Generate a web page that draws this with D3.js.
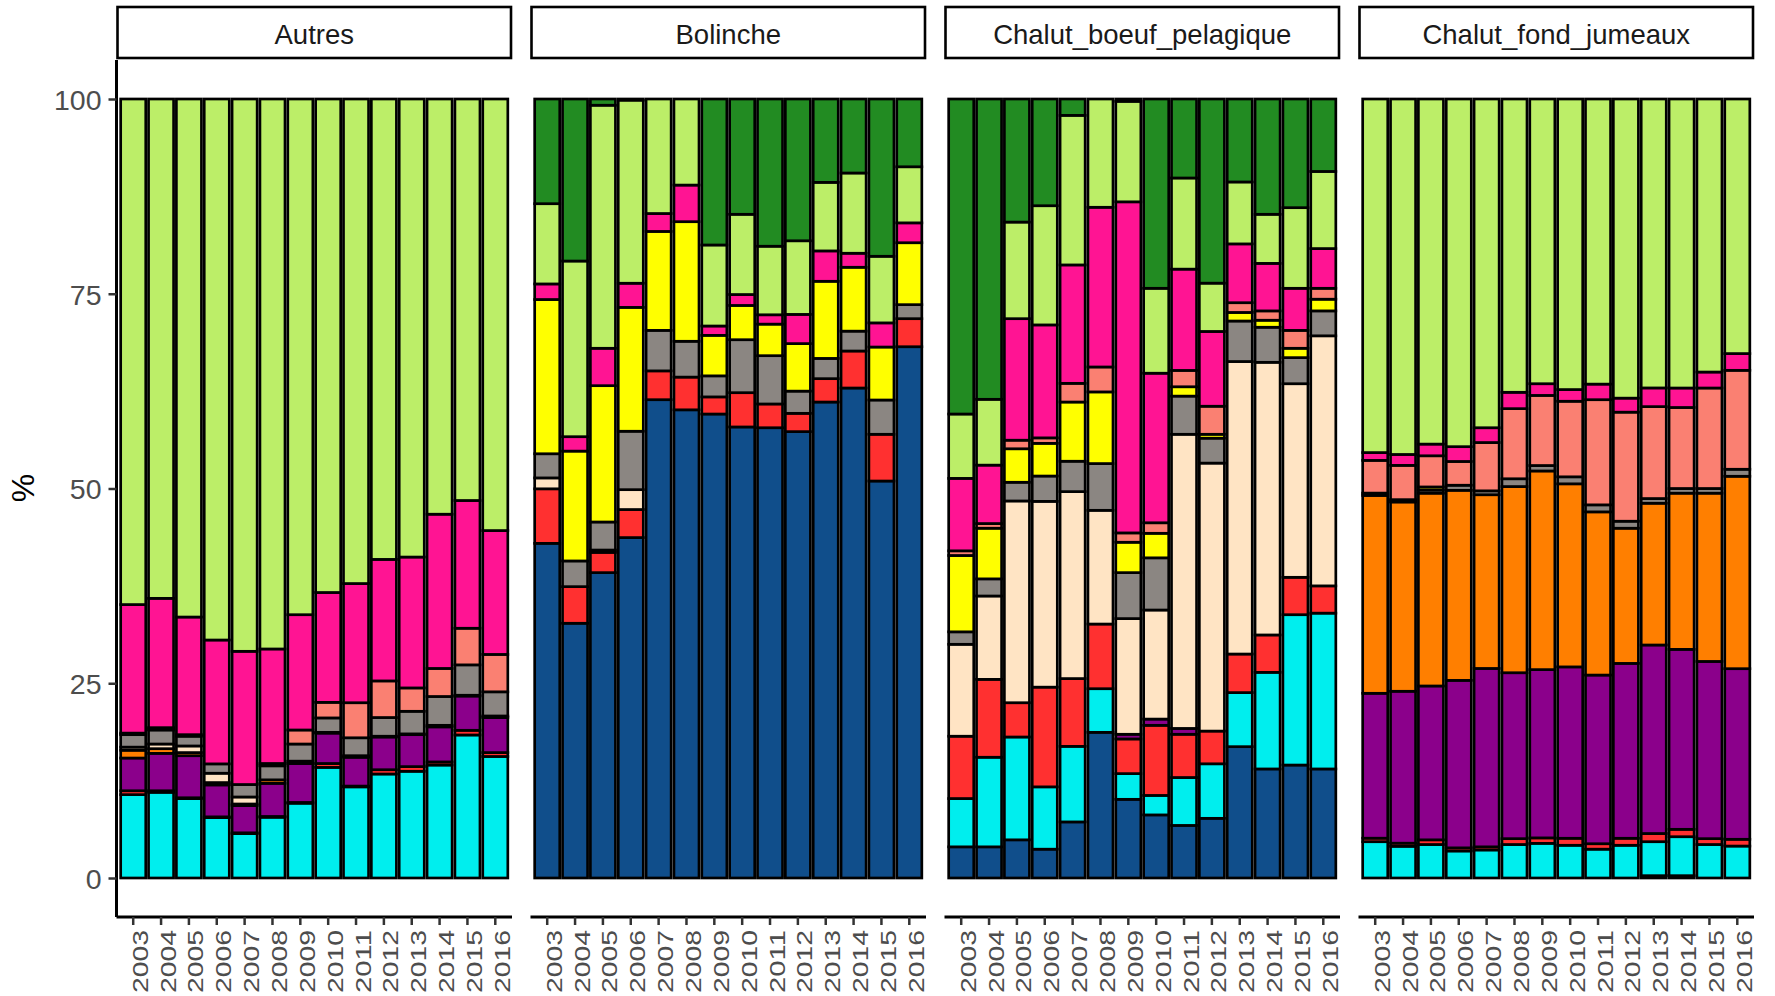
<!DOCTYPE html>
<html>
<head>
<meta charset="utf-8">
<script src="https://cdn.jsdelivr.net/npm/d3@7"></script>
<style>
  html, body { margin: 0; padding: 0; background: #ffffff; }
  svg { display: block; font-family: "Liberation Sans", Arial, sans-serif; }
</style>
</head>
<body>
<svg id="chart" width="1775" height="996"></svg>
<script>
// Years on the x axis of every panel
const years = ["2003","2004","2005","2006","2007","2008","2009","2010","2011","2012","2013","2014","2015","2016"];

// Fishing gear, one panel each
const gears = ["Autres", "Bolinche", "Chalut_boeuf_pelagique", "Chalut_fond_jumeaux"];

// Stacked groups, bottom to top, and their fills
const groups = ["g01","g02","g03","g04","g05","g06","g07","g08","g09","g10","g11","g12"];
const groupColors = ["#104E8B","#00EEEE","#FF3030","#8B008B","#FF7F00","#FFE4C4",
                     "#8B8682","#FFFF00","#FA8072","#FF1493","#BCEE68","#228B22"];

const yTicks = [0, 25, 50, 75, 100];

// Share (%) per group (rows, same order as groups) and year (columns)
const autres = [
  [0,0,0,0,0,0,0,0,0,0,0,0,0,0],
  [10.7,11.0,10.2,7.75,5.7,7.8,9.6,14.2,11.7,13.35,13.7,14.5,18.36,15.6],
  [0.5,0.2,0.1,0.1,0.1,0.1,0.1,0.5,0.1,0.55,0.6,0.4,0.6,0.5],
  [4.2,4.8,5.4,4.1,3.5,4.25,5.0,3.9,3.7,4.2,4.1,4.5,4.4,4.5],
  [1.0,0.6,0.4,0.3,0.2,0.45,0.3,0.1,0.2,0.1,0.1,0.2,0.1,0.2],
  [0.4,0.6,0.85,1.2,0.9,0,0,0,0,0,0,0,0,0],
  [1.6,1.8,1.25,1.2,1.6,1.8,2.2,1.85,2.3,2.4,2.9,3.7,3.9,3.1],
  [0,0,0,0,0,0,0,0,0,0,0,0,0,0],
  [0.2,0.3,0.2,0,0,0.3,1.8,2.0,4.5,4.7,3.0,3.6,4.7,4.8],
  [16.5,16.6,15.1,15.9,17.1,14.7,14.8,14.1,15.3,15.6,16.8,19.8,16.4,15.9],
  [64.9,64.1,66.5,69.45,70.9,70.6,66.2,63.35,62.2,59.1,58.8,53.3,51.54,55.4],
  [0,0,0,0,0,0,0,0,0,0,0,0,0,0]
];

const bolinche = [
  [42.96,32.7,39.2,43.7,61.4,60.1,59.56,57.9,57.8,57.3,61.1,62.9,50.96,68.2],
  [0,0,0,0,0,0,0,0,0,0,0,0,0,0],
  [7.0,4.7,2.6,3.6,3.7,4.2,2.2,4.4,3.05,2.35,3.0,4.75,6.0,3.6],
  [0,0,0,0,0,0,0,0,0,0,0,0,0,0],
  [0,0,0,0,0,0,0,0,0,0,0,0,0,0],
  [1.4,0,0.3,2.55,0,0,0,0,0,0,0,0,0,0],
  [3.1,3.3,3.6,7.5,5.2,4.6,2.7,6.8,6.2,2.85,2.6,2.55,4.4,1.8],
  [19.8,14.1,17.5,15.9,12.7,15.35,5.2,4.4,4.05,6.1,9.9,8.2,6.8,7.95],
  [0,0,0,0,0,0,0,0,0,0,0,0,0,0],
  [2.0,1.85,4.8,3.1,2.3,4.7,1.2,1.4,1.2,3.75,3.9,1.8,3.1,2.55],
  [10.3,22.55,31.2,23.5,14.7,11.05,10.4,10.3,8.8,9.45,8.8,10.3,8.55,7.2],
  [13.44,20.8,0.8,0.15,0,0,18.74,14.8,18.9,18.2,10.7,9.5,20.19,8.7]
];

const chalutBoeufPelagique = [
  [4.0,4.0,4.9,3.7,7.2,18.7,10.1,8.1,6.75,7.66,16.86,14.0,14.5,14.0],
  [6.2,11.5,13.2,8.0,9.7,5.6,3.3,2.5,6.15,7.0,6.94,12.4,19.3,20.0],
  [8.0,10.0,4.4,12.8,8.7,8.3,4.45,9.0,5.55,4.2,4.95,4.8,4.8,3.5],
  [0,0,0,0,0,0,0.6,0.8,0.75,0,0,0,0,0],
  [0,0,0,0,0,0,0,0,0,0,0,0,0,0],
  [11.8,10.7,25.9,23.85,24.0,14.6,14.85,14.0,37.76,34.4,37.55,35.0,24.85,32.1],
  [1.6,2.2,2.4,3.25,3.9,6.0,5.9,6.7,4.9,3.2,5.2,4.5,3.35,3.2],
  [9.8,6.5,4.3,4.2,7.6,9.2,3.9,3.15,1.2,0.5,1.1,0.9,1.2,1.5],
  [0.6,0.6,1.1,0.7,2.4,3.2,1.2,1.35,2.1,3.6,1.25,1.2,2.3,1.4],
  [9.3,7.5,15.6,14.5,15.2,20.5,42.5,19.2,13.0,9.6,7.55,6.1,5.4,5.1],
  [8.26,8.45,12.4,15.3,19.2,13.9,12.9,10.9,11.7,6.2,7.95,6.3,10.35,9.9],
  [40.44,38.55,15.8,13.7,2.1,0,0.3,24.3,10.14,23.64,10.65,14.8,13.95,9.3]
];

const chalutFondJumeaux = [
  [0,0,0,0,0,0,0,0,0,0,0.3,0.3,0,0],
  [4.66,4.07,4.3,3.47,3.6,4.3,4.45,4.2,3.7,4.2,4.36,5.0,4.3,4.1],
  [0.45,0.4,0.6,0.4,0.4,0.75,0.7,0.9,0.7,0.9,1.05,0.95,0.75,0.87],
  [18.6,19.5,19.75,21.5,22.9,21.3,21.6,22.0,21.65,22.45,24.2,23.1,22.75,21.9],
  [25.4,24.3,24.75,24.4,22.3,23.9,25.5,23.5,20.95,17.35,18.2,20.05,21.6,24.7],
  [0,0,0,0,0,0,0,0,0,0,0,0,0,0],
  [0.3,0.3,0.4,0.65,0.5,1.0,0.7,0.9,0.9,0.9,0.6,0.6,0.6,0.9],
  [0,0,0.4,0,0,0,0,0,0,0,0,0,0,0],
  [4.2,4.4,4.0,3.05,6.2,9.0,9.0,9.7,13.5,14.0,11.8,10.4,12.9,12.7],
  [1.0,1.4,1.5,1.9,1.9,2.1,1.5,1.5,2.0,1.8,2.4,2.5,2.05,2.15],
  [45.39,45.63,44.3,44.63,42.2,37.65,36.55,37.3,36.6,38.4,37.09,37.1,35.05,32.68],
  [0,0,0,0,0,0,0,0,0,0,0,0,0,0]
];

const shares = [autres, bolinche, chalutBoeufPelagique, chalutFondJumeaux];

// ---- layout ----
const svg = d3.select("#chart");
const panelLefts = [116.5, 530.5, 944.5, 1358.5];
const panelWidth = 395.5;
const panelTop = 60, panelBottom = 917;
const stripTop = 7, stripBottom = 58;

const y = d3.scaleLinear().domain([0, 100]).range([878, 99]);
const color = d3.scaleOrdinal().domain(groups).range(groupColors);

gears.forEach((gear, gi) => {
  const left = panelLefts[gi];
  const x = d3.scaleBand()
    .domain(years)
    .range([left, left + panelWidth])
    .paddingInner(0.1)
    .paddingOuter(0.15);

  // one row per year, one column per group
  const table = years.map((yr, j) => {
    const row = { year: yr };
    groups.forEach((g, k) => { row[g] = shares[gi][k][j]; });
    return row;
  });
  const stacked = d3.stack().keys(groups)(table);

  const panel = svg.append("g").attr("class", "panel");

  panel.selectAll("g.layer")
    .data(stacked)
    .join("g")
    .attr("class", "layer")
    .attr("fill", d => color(d.key))
    .selectAll("rect")
    .data(d => d.filter(s => s[1] - s[0] > 0))
    .join("rect")
    .attr("x", d => x(d.data.year))
    .attr("width", x.bandwidth())
    .attr("y", d => y(d[1]))
    .attr("height", d => y(d[0]) - y(d[1]))
    .attr("stroke", "#000000")
    .attr("stroke-width", 2.7);

  // strip
  svg.append("rect")
    .attr("x", left + 1)
    .attr("y", stripTop)
    .attr("width", panelWidth - 2)
    .attr("height", stripBottom - stripTop)
    .attr("fill", "#ffffff")
    .attr("stroke", "#000000")
    .attr("stroke-width", 2.6);
  svg.append("text")
    .attr("x", left + panelWidth / 2)
    .attr("y", 43.5)
    .attr("text-anchor", "middle")
    .attr("font-size", 27.5)
    .attr("fill", "#1a1a1a")
    .text(gear);

  // bottom axis
  const xAxis = svg.append("g")
    .attr("transform", `translate(0,${panelBottom})`)
    .call(d3.axisBottom(x).tickSize(8).tickSizeOuter(0).tickFormat(""));
  xAxis.select(".domain")
    .attr("d", `M${left},0H${left + panelWidth}`)
    .attr("stroke", "#000000").attr("stroke-width", 3);
  xAxis.selectAll(".tick line").attr("stroke", "#333333").attr("stroke-width", 2.5);

  svg.append("g").selectAll("text")
    .data(years)
    .join("text")
    .attr("transform", d => `translate(${x(d) + x.bandwidth() / 2 + 7},993) rotate(-90)`)
    .attr("text-anchor", "start")
    .attr("dominant-baseline", "central")
    .attr("font-size", 22)
    .attr("textLength", 63)
    .attr("lengthAdjust", "spacingAndGlyphs")
    .attr("fill", "#4d4d4d")
    .text(d => d);
});

// left axis on the first panel only
const yAxis = svg.append("g")
  .attr("transform", `translate(${panelLefts[0]},0)`)
  .call(d3.axisLeft(y).tickValues(yTicks).tickSize(8).tickSizeOuter(0).tickPadding(7));
yAxis.select(".domain")
  .attr("d", `M0,${panelTop}V${panelBottom}`)
  .attr("stroke", "#000000").attr("stroke-width", 3);
yAxis.selectAll(".tick line").attr("stroke", "#333333").attr("stroke-width", 2.5);
yAxis.selectAll(".tick text")
  .attr("font-size", 28.5)
  .attr("fill", "#4d4d4d")
  .attr("font-family", "Liberation Sans, Arial, sans-serif")
  .attr("dy", "0.36em");

svg.append("text")
  .attr("transform", `translate(34,488) rotate(-90)`)
  .attr("text-anchor", "middle")
  .attr("font-size", 32)
  .attr("fill", "#000000")
  .text("%");
</script>
</body>
</html>
